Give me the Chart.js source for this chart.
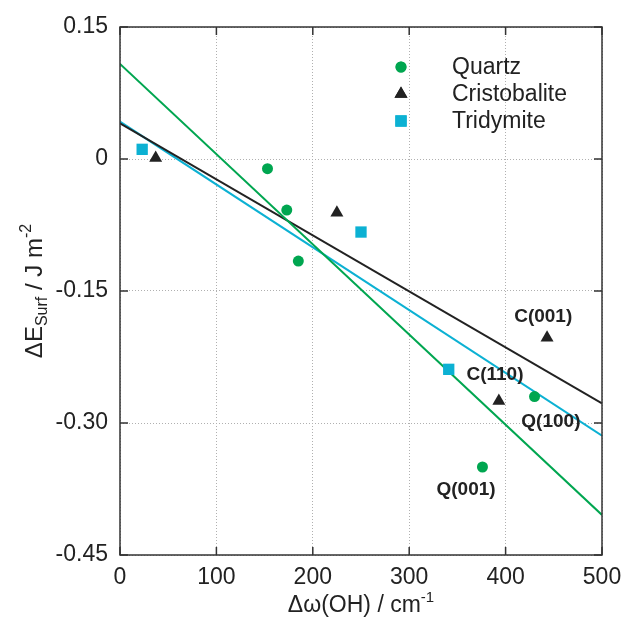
<!DOCTYPE html>
<html><head><meta charset="utf-8">
<script src="https://cdn.jsdelivr.net/npm/chart.js@4/dist/chart.umd.min.js"></script>
<style>html,body{margin:0;padding:0;background:#fff}#wrap{width:622px;height:617px}</style>
</head><body><div id="wrap"><canvas id="c" width="622" height="617"></canvas></div>
<script>
// ---- data ----
const seriesNames = ['Quartz', 'Cristobalite', 'Tridymite'];
const quartzX = [153, 173, 185, 430, 376];
const quartzY = [-0.011, -0.058, -0.116, -0.270, -0.350];
const cristobaliteX = [37, 225, 443, 393];
const cristobaliteY = [0.001, -0.061, -0.203, -0.275];
const tridymiteX = [23, 250, 341];
const tridymiteY = [0.011, -0.083, -0.239];
const fitX = [0, 500];
const quartzFitY = [0.108, -0.4045];
const cristobaliteFitY = [0.0405, -0.2776];
const tridymiteFitY = [0.0424, -0.3144];
const xTickValues = [0, 100, 200, 300, 400, 500];
const yTickValues = [-0.45, -0.30, -0.15, 0, 0.15];
const yTickLabels = ['-0.45', '-0.30', '-0.15', '0', '0.15'];
const labelTexts = ['C(001)', 'C(110)', 'Q(100)', 'Q(001)'];
const labelX = [439, 389, 447, 359];
const labelY = [-0.179, -0.245, -0.299, -0.376];

const GREEN = '#00a650', BLACK = '#222222', CYAN = '#0cb1d3';
const FONT = "'Liberation Sans', Arial, Helvetica, sans-serif";
const pts = (xs, ys) => xs.map((x, i) => ({x: x, y: ys[i]}));

const markers = [
  {style: 'circle', radius: 5.5, color: GREEN},
  {style: 'triangle', radius: 7.5, color: BLACK},
  {style: 'rect', radius: 8, color: CYAN}
];

function drawRuns(ctx, runs, x, y, align) {
  let total = 0;
  runs.forEach(r => { ctx.font = r.size + 'px ' + FONT; r.w = ctx.measureText(r.t).width; total += r.w; });
  let cx = align === 'center' ? x - total / 2 : x;
  ctx.textAlign = 'left';
  ctx.textBaseline = 'alphabetic';
  runs.forEach(r => { ctx.font = r.size + 'px ' + FONT; ctx.fillText(r.t, cx, y + r.dy); cx += r.w; });
}

const decorPlugin = {
  id: 'decor',
  afterDraw(chart) {
    const ctx = chart.ctx, a = chart.chartArea;
    const xs = chart.scales.x, ys = chart.scales.y;
    ctx.save();
    // frame
    ctx.strokeStyle = '#333';
    ctx.lineWidth = 1.5;
    ctx.strokeRect(a.left, a.top, a.right - a.left, a.bottom - a.top);
    // inward ticks
    ctx.beginPath();
    const TL = 8;
    xTickValues.forEach(v => {
      const px = xs.getPixelForValue(v);
      ctx.moveTo(px, a.bottom); ctx.lineTo(px, a.bottom - TL);
      ctx.moveTo(px, a.top); ctx.lineTo(px, a.top + TL);
    });
    yTickValues.forEach(v => {
      const py = ys.getPixelForValue(v);
      ctx.moveTo(a.left, py); ctx.lineTo(a.left + TL, py);
      ctx.moveTo(a.right, py); ctx.lineTo(a.right - TL, py);
    });
    ctx.stroke();

    // legend
    const lx = 401, ly0 = 67, lstep = 27;
    seriesNames.forEach((name, i) => {
      const m = markers[i];
      const y = ly0 + i * lstep;
      ctx.fillStyle = m.color;
      ctx.strokeStyle = m.color;
      Chart.helpers.drawPoint(ctx, {pointStyle: m.style, radius: m.radius, rotation: 0, borderWidth: 0}, lx, y);
      ctx.fill();
      ctx.fillStyle = '#222';
      ctx.font = '23px ' + FONT;
      ctx.textAlign = 'left';
      ctx.textBaseline = 'middle';
      ctx.fillText(name, 452, y + 1);
    });

    // point labels
    ctx.fillStyle = '#222';
    ctx.font = 'bold 19px ' + FONT;
    ctx.textAlign = 'center';
    ctx.textBaseline = 'middle';
    labelTexts.forEach((t, i) => {
      ctx.fillText(t, xs.getPixelForValue(labelX[i]), ys.getPixelForValue(labelY[i]));
    });

    // x axis title
    ctx.fillStyle = '#222';
    drawRuns(ctx, [
      {t: '\u0394\u03c9(OH) / cm', size: 23, dy: 0},
      {t: '-1', size: 15, dy: -10}
    ], (a.left + a.right) / 2, 612, 'center');

    // y axis title
    ctx.translate(42, (a.top + a.bottom) / 2);
    ctx.rotate(-Math.PI / 2);
    drawRuns(ctx, [
      {t: '\u0394E', size: 24, dy: 0},
      {t: 'Surf', size: 16, dy: 5},
      {t: ' / J m', size: 24, dy: 0},
      {t: '-2', size: 16, dy: -11}
    ], 0, 0, 'center');
    ctx.restore();
  }
};

const tickFont = {family: FONT, size: 23};
new Chart(document.getElementById('c'), {
  type: 'scatter',
  data: {
    datasets: [
      {label: seriesNames[0], data: pts(quartzX, quartzY), pointStyle: 'circle', pointRadius: 5.5, backgroundColor: GREEN, borderWidth: 0, order: 0},
      {label: seriesNames[1], data: pts(cristobaliteX, cristobaliteY), pointStyle: 'triangle', pointRadius: 7.5, backgroundColor: BLACK, borderWidth: 0, order: 0},
      {label: seriesNames[2], data: pts(tridymiteX, tridymiteY), pointStyle: 'rect', pointRadius: 8, backgroundColor: CYAN, borderWidth: 0, order: 0},
      {type: 'line', label: 'Quartz fit', data: pts(fitX, quartzFitY), borderColor: GREEN, borderWidth: 2, pointRadius: 0, fill: false, order: 1},
      {type: 'line', label: 'Tridymite fit', data: pts(fitX, tridymiteFitY), borderColor: CYAN, borderWidth: 2, pointRadius: 0, fill: false, order: 2},
      {type: 'line', label: 'Cristobalite fit', data: pts(fitX, cristobaliteFitY), borderColor: BLACK, borderWidth: 2, pointRadius: 0, fill: false, order: 1}
    ]
  },
  options: {
    responsive: false,
    animation: false,
    devicePixelRatio: 1,
    layout: {padding: {left: 0, right: 20, top: 27, bottom: 0}},
    plugins: {legend: {display: false}, tooltip: {enabled: false}},
    scales: {
      x: {
        type: 'linear', min: 0, max: 500,
        afterBuildTicks: s => { s.ticks = xTickValues.map(v => ({value: v})); },
        afterFit: s => { s.height = 62; s.paddingLeft = 0; s.paddingRight = 0; },
        grid: {color: '#b0b0b0', lineWidth: 1, drawTicks: false},
        border: {display: false, dash: [1, 2]},
        ticks: {font: tickFont, color: '#222', padding: 9, maxRotation: 0, autoSkip: false}
      },
      y: {
        type: 'linear', min: -0.45, max: 0.15,
        afterBuildTicks: s => { s.ticks = yTickValues.map(v => ({value: v})); },
        afterFit: s => { s.width = 120; s.paddingTop = 0; s.paddingBottom = 0; },
        grid: {color: '#b0b0b0', lineWidth: 1, drawTicks: false},
        border: {display: false, dash: [1, 2]},
        ticks: {font: tickFont, color: '#222', padding: 12, autoSkip: false,
          callback: (v, i) => yTickLabels[i]}
      }
    }
  },
  plugins: [decorPlugin]
});
</script>
</body></html>
